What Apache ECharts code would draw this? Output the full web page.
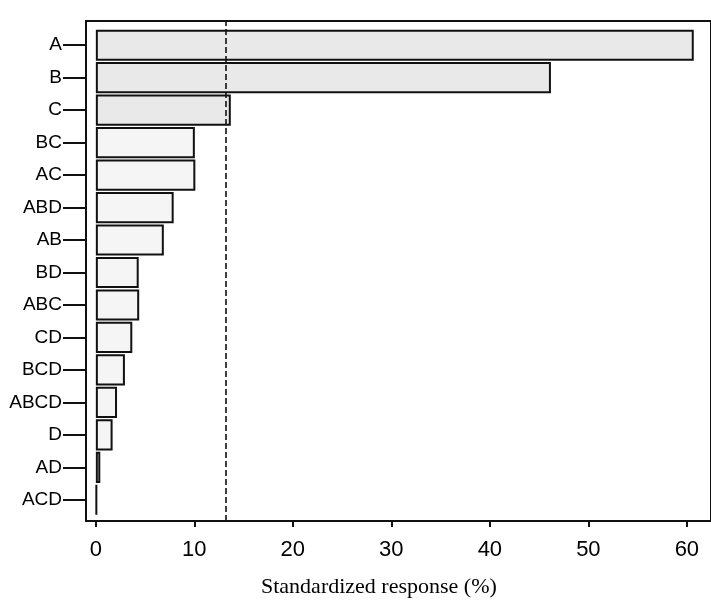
<!DOCTYPE html>
<html>
<head>
<meta charset="utf-8">
<script src="https://cdn.jsdelivr.net/npm/echarts@6/dist/echarts.min.js"></script>
<style>
  html, body { margin: 0; padding: 0; background: #fff; }
  #chart { width: 711px; height: 603px; }
</style>
</head>
<body>
<div id="chart"></div>
<script>
// effects, largest first
var effects = ['A', 'B', 'C', 'BC', 'AC', 'ABD', 'AB', 'BD', 'ABC', 'CD', 'BCD', 'ABCD', 'D', 'AD', 'ACD'];
var responses = [60.7, 46.2, 13.7, 10.05, 10.1, 7.9, 6.9, 4.35, 4.4, 3.7, 2.95, 2.15, 1.7, 0.45, 0.1];
var xTicks = [0, 10, 20, 30, 40, 50, 60];
var critical = 13.2; // dashed reference line

var xMin = -1, xMax = 62.45;

// 显著效应颜色略深
var barData = responses.map(function (v, i) {
  return {
    value: v,
    itemStyle: { color: i < 3 ? '#e9e9e9' : '#f5f5f5' }
  };
});

var chart = echarts.init(document.getElementById('chart'));
var option = {
  animation: false,
  title: {
    text: 'Standardized response (%)',
    left: 256,
    top: 571,
    textStyle: { fontFamily: 'Liberation Serif', fontSize: 22, fontWeight: 'normal', color: '#000' }
  },
  grid: [
    // frame
    { left: 86, right: -1, top: 21, bottom: 82, show: true, borderColor: '#111', borderWidth: 2, backgroundColor: 'transparent' },
    // bars
    { left: 86, right: -1, top: 29, bottom: 87 }
  ],
  xAxis: [
    {
      gridIndex: 0, type: 'value', min: xMin, max: xMax,
      axisLine: { show: true, onZero: false, lineStyle: { color: '#111', width: 2 } },
      axisTick: { show: true, length: 6, lineStyle: { color: '#111', width: 2 }, customValues: xTicks },
      axisLabel: { customValues: xTicks, fontFamily: 'Liberation Sans', fontSize: 22, color: '#000', margin: 18 },
      splitLine: { show: false }
    },
    {
      gridIndex: 1, type: 'value', min: xMin, max: xMax, show: false
    }
  ],
  yAxis: [
    { gridIndex: 0, type: 'value', min: 0, max: 1, show: false },
    {
      gridIndex: 1, type: 'category', data: effects, inverse: true,
      axisLine: { show: false, onZero: false },
      axisTick: { show: true, alignWithLabel: true, length: 23, lineStyle: { color: '#111', width: 2 } },
      axisLabel: { fontFamily: 'Liberation Sans', fontSize: 19, color: '#000', margin: 24 }
    }
  ],
  series: [
    {
      type: 'line', xAxisIndex: 0, yAxisIndex: 0, data: [],
      markLine: {
        silent: true, symbol: 'none', label: { show: false },
        lineStyle: { color: '#111', type: [6, 3], width: 1.6 },
        data: [{ xAxis: critical }]
      }
    },
    {
      type: 'bar', xAxisIndex: 1, yAxisIndex: 1,
      data: barData,
      barCategoryGap: '4%',
      itemStyle: { borderColor: '#111', borderWidth: 2 }
    }
  ]
};
chart.setOption(option);
</script>
</body>
</html>
